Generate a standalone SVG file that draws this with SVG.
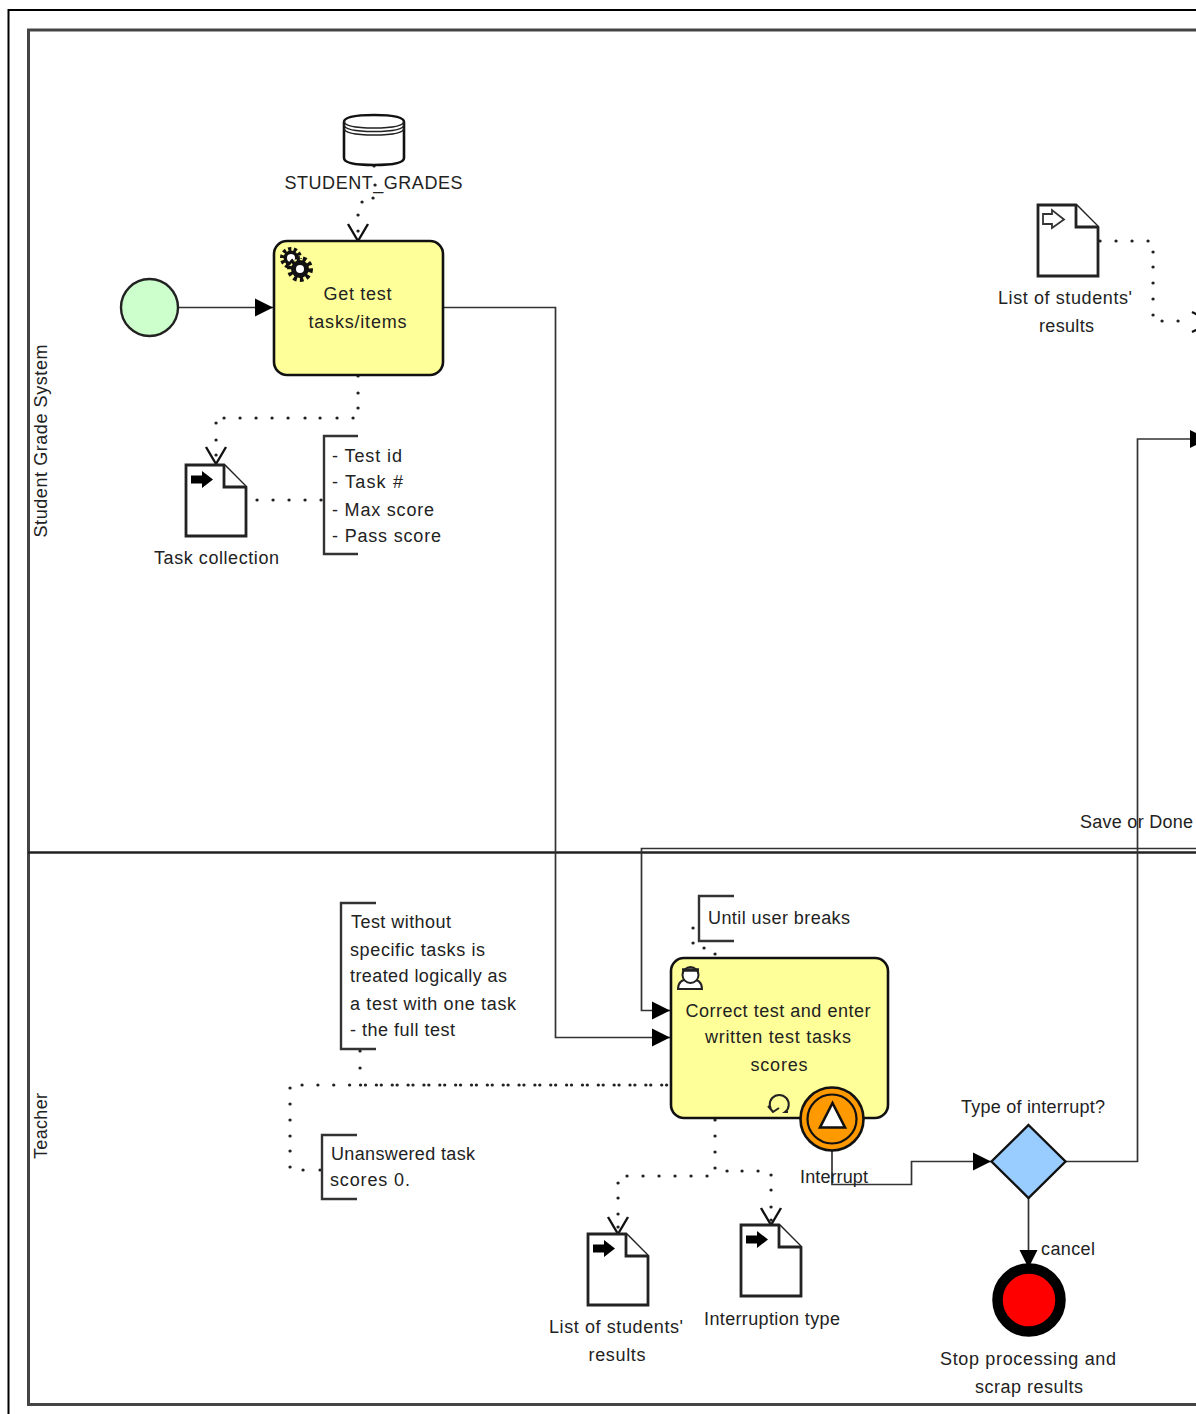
<svg xmlns="http://www.w3.org/2000/svg" width="1196" height="1414" viewBox="0 0 1196 1414">
<style>
text{font-family:"Liberation Sans",Arial,sans-serif;font-size:18px;fill:#222}
.m{text-anchor:middle}
.flow{fill:none;stroke:#333;stroke-width:1.7}
.dot{fill:none;stroke:#222;stroke-width:3.2;stroke-linecap:round}
.dash{stroke-dasharray:0.1 15.75}
.open{fill:none;stroke:#111;stroke-width:2.4}
.doc{fill:#fff;stroke:#222;stroke-width:2.8}
.brk{fill:none;stroke:#333;stroke-width:2.4}
.task{fill:#ffff99;stroke:#111;stroke-width:2.6}
</style>
<defs>
<marker id="arr" markerUnits="userSpaceOnUse" markerWidth="20" markerHeight="20" refX="19" refY="10" orient="auto"><path d="M1 1L19 10L1 19Z" fill="#000"/></marker>
<g id="docshape"><path class="doc" d="M0 0H38L60 22V71H0Z"/><path class="doc" d="M38 0V22H60" fill="none"/></g>
<path id="arrowicon" d="M5 10.500H16V6L27 14.500L16 23V18.500H5Z" fill="#000"/>
</defs>
<rect width="1196" height="1414" fill="#fff"/>
<path d="M1196 10H8.500V1414" fill="none" stroke="#000" stroke-width="2"/>
<g id="pools">
<path d="M1196 30H28.500V1404.500H1196" fill="none" stroke="#444" stroke-width="3"/>
<path d="M28 852.500H1196" fill="none" stroke="#222" stroke-width="2.600"/>
<text transform="translate(47,441) rotate(-90)" class="m" textLength="193">Student Grade System</text>
<text transform="translate(47,1126) rotate(-90)" class="m" textLength="66">Teacher</text>
</g>
<g id="connectors">
<path class="flow" marker-end="url(#arr)" d="M178 307.500H273"/>
<path class="flow" marker-end="url(#arr)" d="M443 307.500H555.500V1037.500H670"/>
<path class="flow" marker-end="url(#arr)" d="M1196 848.500H641.500V1010.500H670"/>
<path class="flow" marker-end="url(#arr)" d="M832 1151V1184.500H911.500V1161.500H991"/>
<path class="flow" marker-end="url(#arr)" d="M1066 1161.500H1137.500V439H1208"/>
<path class="flow" marker-end="url(#arr)" d="M1028.500 1198V1268"/>
<path class="dot" d="M374 166h.1M375 185h.1M373 198h.1M362 202h.1M358 215h.1M358 231h.1"/>
<path class="dot" d="M358 376h.1M358 393h.1M358 408h.1M353 418h.1M337 418h.1M320 418h.1M305 418h.1M288 418h.1M272 418h.1M256 418h.1M240 418h.1M224 418h.1M216 423h.1M216 440h.1M216 455h.1"/>
<path class="dot" d="M257 500h.1M273 500h.1M289 500h.1M305 500h.1M321 500h.1"/>
<path class="dot dash" d="M302 1085H668"/>
<path class="dot dash" d="M360.500 1085H668"/>
<path class="dot" d="M360 1051h.1M360 1068h.1M290 1088h.1M290 1104h.1M290 1120h.1M290 1136h.1M290 1151h.1M290 1167h.1M303 1170h.1M320 1170h.1"/>
<path class="dot" d="M715 954h.1M704 948h.1M693 943h.1M693 928h.1"/>
<path class="dot" d="M715 1120h.1M715 1136h.1M715 1152h.1M715 1168h.1M727 1171h.1M742 1171h.1M758 1171h.1M771 1175h.1M771 1190h.1M771 1207h.1M771 1220h.1"/>
<path class="dot" d="M707 1176h.1M691 1176h.1M675 1176h.1M659 1176h.1M643 1176h.1M627 1176h.1M618 1183h.1M618 1198h.1M618 1214h.1M618 1227h.1"/>
<path class="dot" d="M1100 241h.1M1116 241h.1M1132 241h.1M1148 241h.1M1153 252h.1M1153 267h.1M1153 283h.1M1153 299h.1M1153 315h.1M1162 321h.1M1178 321h.1"/>
<path class="open" d="M348 224L358 241L368 224"/>
<path class="open" d="M206 447L216 464L226 447"/>
<path class="open" d="M608 1217L618 1234L628 1217"/>
<path class="open" d="M761 1208L771 1225L781 1208"/>
<path class="open" d="M1192 312L1212 322L1192 332"/>
</g>
<g id="db">
<path d="M344 122V158Q344 165 374 165Q404 165 404 158V122Q404 115 374 115Q344 115 344 122Z" fill="#fff" stroke="#111" stroke-width="2.600"/>
<path d="M344 121Q344 128 374 128Q404 128 404 121M344 124.500Q344 131.500 374 131.500Q404 131.500 404 124.500M344 128Q344 135 374 135Q404 135 404 128" fill="none" stroke="#222" stroke-width="1.500"/>
<text x="373.500" y="189" class="m" textLength="178">STUDENT_GRADES</text>
</g>
<g id="start"><circle cx="149.500" cy="307.500" r="28.500" fill="#ccffcc" stroke="#222" stroke-width="2.400"/></g>
<g id="get-test">
<rect class="task" x="274" y="241" width="169" height="134" rx="13"/>
<g transform="translate(291,258)">
<circle r="8.500" fill="none" stroke="#111" stroke-width="5" stroke-dasharray="3 2.300"/><circle r="7.500" fill="#111"/><circle r="4" fill="#fff"/>
<g transform="translate(9,11)"><circle r="10.500" fill="#ffff99" stroke="#111" stroke-width="5" stroke-dasharray="3.500 3"/><circle r="9" fill="#111"/><circle r="4" fill="#fff"/></g>
</g>
<text x="357.500" y="300" class="m" textLength="68">Get test</text>
<text x="357.500" y="328" class="m" textLength="98">tasks/items</text>
</g>
<g id="task-collection">
<use href="#docshape" x="186" y="465"/>
<use href="#arrowicon" x="186" y="465"/>
<text x="216.500" y="564" class="m" textLength="125">Task collection</text>
</g>
<g id="note-task">
<path class="brk" d="M358 436H324V554H358"/>
<text x="332" y="462" textLength="70">- Test id</text>
<text x="332" y="488" textLength="71">- Task #</text>
<text x="332" y="516" textLength="102">- Max score</text>
<text x="332" y="542" textLength="109">- Pass score</text>
</g>
<g id="list-input">
<path class="doc" d="M1038 205H1076L1098 227V276H1038Z"/><path class="doc" d="M1076 205V227H1098" fill="none"/>
<path d="M1043 214H1052V210L1064 219.500L1052 228V224H1043Z" fill="#fff" stroke="#333" stroke-width="1.800"/>
<text x="1065" y="304" class="m" textLength="134">List of students'</text>
<text x="1066.500" y="332" class="m" textLength="55">results</text>
</g>
<g id="note-until">
<path class="brk" d="M734 896H699V941H734"/>
<text x="708" y="924" textLength="142">Until user breaks</text>
</g>
<g id="note-logic">
<path class="brk" d="M376 903H341V1049H376"/>
<text x="351" y="928" textLength="100">Test without</text>
<text x="350" y="956" textLength="135">specific tasks is</text>
<text x="350" y="982" textLength="157">treated logically as</text>
<text x="350" y="1010" textLength="166">a test with one task</text>
<text x="350" y="1036" textLength="105">- the full test</text>
</g>
<g id="note-unanswered">
<path class="brk" d="M357 1135H322V1199H357"/>
<text x="331" y="1160" textLength="144">Unanswered task</text>
<text x="330" y="1186" textLength="80">scores 0.</text>
</g>
<g id="correct-test">
<rect class="task" x="671" y="958" width="217" height="160" rx="13"/>
<g fill="#fff" stroke="#222" stroke-width="2"><path d="M678 989Q678 979 690 979Q702 979 702 989Z"/><circle cx="690.500" cy="975" r="8"/></g>
<path d="M682 970H699" stroke="#222" stroke-width="3.500"/>
<text x="778" y="1017" class="m" textLength="185">Correct test and enter</text>
<text x="778" y="1043" class="m" textLength="146">written test tasks</text>
<text x="779" y="1071" class="m" textLength="57">scores</text>
<path d="M773.500 1112A9.500 9.500 0 1 1 785 1112H788M768 1106L773 1112L779 1108" fill="none" stroke="#222" stroke-width="2"/>
</g>
<g id="interrupt">
<circle cx="832" cy="1119" r="31.500" fill="#ff9900" stroke="#111" stroke-width="2.600"/>
<circle cx="832" cy="1119" r="24.500" fill="#ff9900" stroke="#111" stroke-width="2.200"/>
<path d="M832.500 1103L845 1127.500H820Z" fill="#fff" stroke="#111" stroke-width="2.600"/>
<text x="834" y="1183" class="m" textLength="68">Interrupt</text>
</g>
<g id="gateway">
<path d="M1028.500 1125L1065.500 1161.500L1028.500 1198L991.500 1161.500Z" fill="#99ccff" stroke="#111" stroke-width="2.400"/>
<text x="1033" y="1113" class="m" textLength="144">Type of interrupt?</text>
<text x="1041" y="1255" textLength="54">cancel</text>
</g>
<g id="end">
<circle cx="1029" cy="1300" r="31.500" fill="#ff0000" stroke="#000" stroke-width="10.500"/>
<text x="1028" y="1365" class="m" textLength="176">Stop processing and</text>
<text x="1029" y="1393" class="m" textLength="108">scrap results</text>
</g>
<g id="list-output">
<use href="#docshape" x="588" y="1234"/>
<use href="#arrowicon" x="588" y="1234"/>
<text x="616" y="1333" class="m" textLength="134">List of students'</text>
<text x="617" y="1361" class="m" textLength="57">results</text>
</g>
<g id="interruption-type">
<use href="#docshape" x="741" y="1225"/>
<use href="#arrowicon" x="741" y="1225"/>
<text x="772" y="1325" class="m" textLength="136">Interruption type</text>
</g>
<text x="1080" y="828" textLength="113">Save or Done</text>
</svg>
